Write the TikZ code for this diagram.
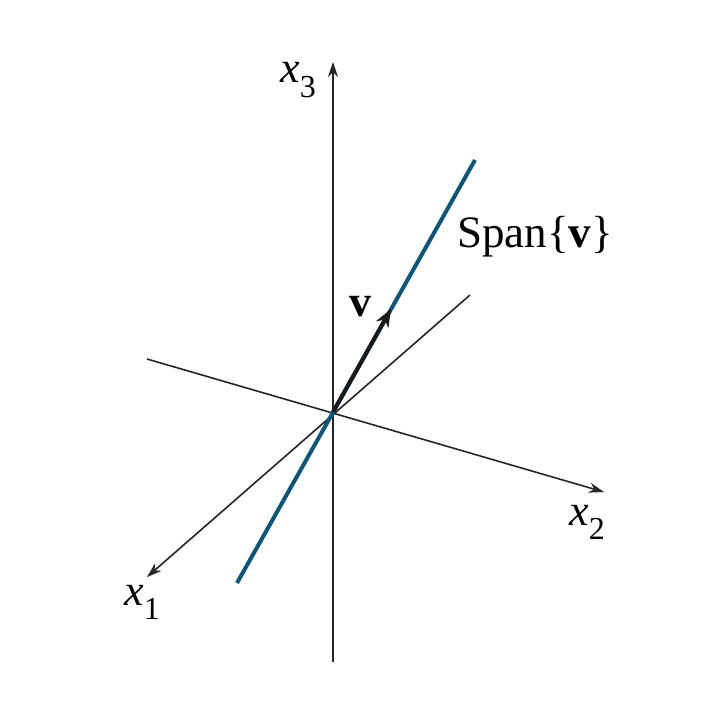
\documentclass[tikz,border=0pt]{standalone}
\usepackage{fontspec}
\setmainfont{Liberation Serif}
\usetikzlibrary{arrows.meta}
\definecolor{spanblue}{RGB}{12,86,122}
\tikzset{
  axis/.style={line width=0.8pt, draw=black!85, -{Stealth[length=7.5pt,width=5pt]}},
  spanline/.style={line width=2pt, draw=spanblue},
  vecarrow/.style={line width=2pt, draw=black!90, -{Stealth[length=9pt,width=7pt]}},
  lbl/.style={inner sep=0pt, font=\fontsize{22}{26}\selectfont},
}
\newcommand{\axlab}[2]{\textit{#1}\raisebox{-0.7ex}{\fontsize{16}{18}\selectfont #2}}
\begin{document}
\begin{tikzpicture}[x=0.5pt,y=-0.5pt]
\useasboundingbox (0,0) rectangle (727,717);
\coordinate (O) at (333,412);
\coordinate (x3b) at (333,662);
\coordinate (x3t) at (333,62);
\coordinate (x2a) at (147,359);
\coordinate (x2b) at (604,492);
\coordinate (x1a) at (470,295);
\coordinate (x1b) at (147,577);
\coordinate (sa) at (237,583);
\coordinate (sb) at (475,160);
\coordinate (vt) at (391,309);
% axes
\draw[axis] (x3b) -- (x3t);
\draw[axis] (x2a) -- (x2b);
\draw[axis] (x1a) -- (x1b);
% span line
\draw[spanline] (sa) -- (sb);
% vector
\draw[vecarrow] (O) -- (vt);
% labels
\node[lbl] (l3) at (298,80) {\axlab{x}{3}};
\node[lbl] (l2) at (587,522) {\axlab{x}{2}};
\node[lbl] (l1) at (142,602) {\axlab{x}{1}};
\node[lbl] (lv) at (360,307) {\textbf{v}};
\node[lbl, font=\fontsize{22.5}{26}\selectfont] (ls) at (535,237) {Span\{\textbf{v}\}};
\end{tikzpicture}
\end{document}
